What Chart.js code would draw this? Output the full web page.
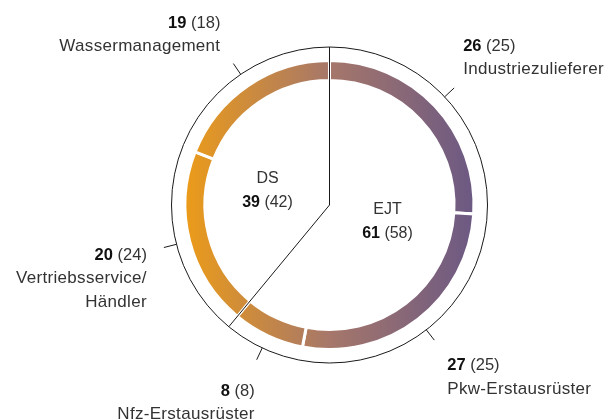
<!DOCTYPE html>
<html>
<head>
<meta charset="utf-8">
<script src="https://cdn.jsdelivr.net/npm/chart.js@4/dist/chart.umd.min.js"></script>
<style>
  html, body { margin: 0; padding: 0; background: #fff; }
  #wrap { width: 605px; height: 419px; position: relative; }
</style>
</head>
<body>
<div id="wrap"><canvas id="ring"></canvas></div>
<script>
// Umsatzanteile nach Segment (Vorjahr in Klammern)
const segments = ['Industriezulieferer', 'Pkw-Erstausrüster', 'Nfz-Erstausrüster', 'Vertriebsservice/\nHändler', 'Wassermanagement'];
const shares = [26, 27, 8, 20, 19];
const sharesPrev = [25, 25, 8, 24, 18];

// Konzernbereiche
const groups = ['EJT', 'DS'];
const groupShares = [61, 39];
const groupSharesPrev = [58, 42];
const groupFirstSegment = [0, 3];

// Beschriftungs-Layout (relativ zum Tick-Ende bzw. zur Mitte)
const labelLayout = [
  { dx: 9, dy: -37, align: 'left' },
  { dx: 13, dy: 30, align: 'left' },
  { dx: -2, dy: 36, align: 'right' },
  { dx: -17, dy: 12, align: 'right' },
  { dx: -13, dy: -36, align: 'right' }
];
const groupLayout = [
  { dx: 58, dy: 9 },
  { dx: -62, dy: -22 }
];

const FONT = '"Liberation Sans", Arial, sans-serif';
const RING_R = 144.5;
const FRAME_R = 158;
const TICK_R = 171;

function ringGradient(context) {
  const chart = context.chart;
  const area = chart.chartArea;
  if (!area) return '#b07a60';
  const cx = (area.left + area.right) / 2;
  const g = chart.ctx.createLinearGradient(cx - 143, 0, cx + 143, 0);
  g.addColorStop(0, '#eb9b1a');
  g.addColorStop(0.5, '#a6776a');
  g.addColorStop(1, '#6c5983');
  return g;
}

// Zahl fett + Vorjahr normal in einer Zeile
function valueLine(ctx, x, y, value, prev, align, size) {
  const boldTxt = String(value);
  const restTxt = ' (' + prev + ')';
  ctx.font = 'bold ' + size + 'px ' + FONT;
  const wb = ctx.measureText(boldTxt).width;
  ctx.font = size + 'px ' + FONT;
  const wr = ctx.measureText(restTxt).width;
  let x0 = x;
  if (align === 'right') x0 = x - wb - wr;
  if (align === 'center') x0 = x - (wb + wr) / 2;
  ctx.textAlign = 'left';
  ctx.font = 'bold ' + size + 'px ' + FONT;
  ctx.fillStyle = '#111';
  ctx.fillText(boldTxt, x0, y);
  ctx.font = size + 'px ' + FONT;
  ctx.fillStyle = '#333';
  ctx.fillText(restTxt, x0 + wb, y);
}

const decorations = {
  id: 'decorations',
  afterDraw(chart) {
    const ctx = chart.ctx;
    const arcs = chart.getDatasetMeta(0).data;
    const cx = arcs[0].x, cy = arcs[0].y;
    ctx.save();
    ctx.strokeStyle = '#1a1a1a';
    ctx.lineWidth = 1;

    // äußerer Rahmen
    ctx.beginPath();
    ctx.arc(cx, cy, FRAME_R, 0, Math.PI * 2);
    ctx.stroke();

    // Trennlinien der Konzernbereiche
    groupFirstSegment.forEach(i => {
      const a = arcs[i].startAngle;
      ctx.beginPath();
      ctx.moveTo(cx, cy);
      ctx.lineTo(cx + FRAME_R * Math.cos(a), cy + FRAME_R * Math.sin(a));
      ctx.stroke();
    });

    // Ticks + Segmentbeschriftungen
    ctx.textBaseline = 'alphabetic';
    arcs.forEach((arc, i) => {
      const a = (arc.startAngle + arc.endAngle) / 2;
      const ex = cx + TICK_R * Math.cos(a), ey = cy + TICK_R * Math.sin(a);
      ctx.beginPath();
      ctx.moveTo(cx + FRAME_R * Math.cos(a), cy + FRAME_R * Math.sin(a));
      ctx.lineTo(ex, ey);
      ctx.stroke();

      const lay = labelLayout[i];
      const x = ex + lay.dx;
      let y = ey + lay.dy;
      valueLine(ctx, x, y, shares[i], sharesPrev[i], lay.align, 16.5);
      ctx.font = '17px ' + FONT;
      ctx.letterSpacing = '0.3px';
      ctx.fillStyle = '#333';
      ctx.textAlign = lay.align;
      segments[i].split('\n').forEach(line => {
        y += 23.5;
        ctx.fillText(line, x, y);
      });
      ctx.letterSpacing = '0px';
    });

    // Konzernbereiche in der Mitte
    groups.forEach((name, k) => {
      const lay = groupLayout[k];
      const x = cx + lay.dx, y = cy + lay.dy;
      ctx.font = '16px ' + FONT;
      ctx.fillStyle = '#333';
      ctx.textAlign = 'center';
      ctx.fillText(name, x, y);
      valueLine(ctx, x, y + 24, groupShares[k], groupSharesPrev[k], 'center', 16);
    });
    ctx.restore();
  }
};

new Chart(document.getElementById('ring').getContext('2d'), {
  type: 'doughnut',
  data: {
    labels: segments,
    datasets: [{
      data: shares,
      backgroundColor: ringGradient,
      borderColor: '#fff',
      borderWidth: 3
    }]
  },
  options: {
    responsive: true,
    maintainAspectRatio: false,
    animation: false,
    radius: RING_R,
    cutout: '86.2%',
    layout: { padding: { left: 81, right: 27, top: 20, bottom: 29 } },
    plugins: {
      legend: { display: false },
      tooltip: { enabled: false }
    }
  },
  plugins: [decorations]
});
</script>
</body>
</html>
